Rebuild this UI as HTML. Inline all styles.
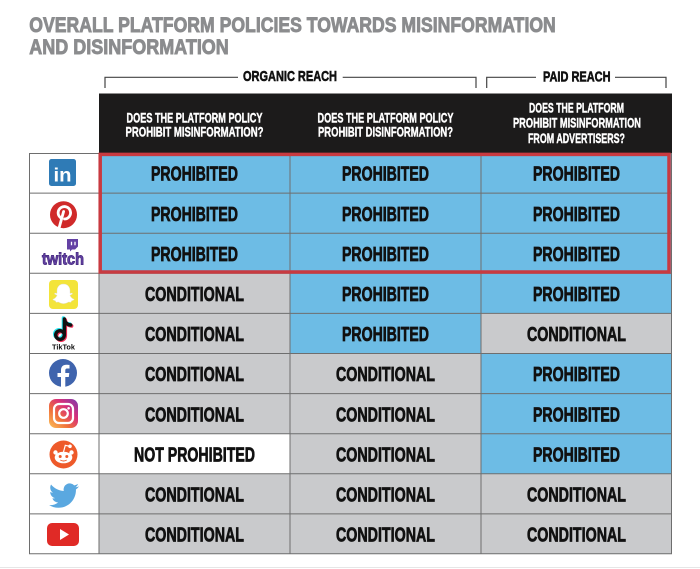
<!DOCTYPE html>
<html><head><meta charset="utf-8"><style>
html,body{margin:0;padding:0;background:#fff;}
svg{display:block;}
text{font-family:"Liberation Sans",sans-serif;font-weight:bold;}
</style></head><body>
<svg width="700" height="569" viewBox="0 0 700 569" xmlns="http://www.w3.org/2000/svg">
<defs>
<linearGradient id="ig" x1="0" y1="1" x2="1" y2="0">
<stop offset="0" stop-color="#fcc15a"/><stop offset="0.35" stop-color="#f0703a"/><stop offset="0.65" stop-color="#d8307a"/><stop offset="1" stop-color="#7a3cb0"/>
</linearGradient>
</defs>
<rect width="700" height="569" fill="#fff"/>
<!-- Title -->
<g fill="#8b8c8e" stroke="#8b8c8e" stroke-width="0.9" font-size="21">
<text x="29.3" y="31.8" textLength="526.5" lengthAdjust="spacingAndGlyphs">OVERALL PLATFORM POLICIES TOWARDS MISINFORMATION</text>
<text x="29.3" y="53.8" textLength="199.5" lengthAdjust="spacingAndGlyphs">AND DISINFORMATION</text>
</g>
<!-- Brackets -->
<g stroke="#444" stroke-width="1.2" fill="none">
<path d="M105 88 V77.3 H238"/>
<path d="M342.7 77.3 H476 V88"/>
<path d="M486.7 88 V77.3 H536"/>
<path d="M615 77.3 H666 V88"/>
</g>
<g fill="#111" stroke="#111" stroke-width="0.6" font-size="15">
<text x="243" y="81" textLength="94" lengthAdjust="spacingAndGlyphs">ORGANIC REACH</text>
<text x="543" y="81.5" textLength="67.5" lengthAdjust="spacingAndGlyphs">PAID REACH</text>
</g>
<!-- Header -->
<rect x="99" y="93.5" width="573" height="60" fill="#1c1b1b"/>
<g fill="#fff" stroke="#fff" stroke-width="0.45" font-size="13.7">
<text x="126.5" y="122.7" textLength="136" lengthAdjust="spacingAndGlyphs">DOES THE PLATFORM POLICY</text>
<text x="125.5" y="136.7" textLength="138" lengthAdjust="spacingAndGlyphs">PROHIBIT MISINFORMATION?</text>
<text x="317.5" y="122.7" textLength="136" lengthAdjust="spacingAndGlyphs">DOES THE PLATFORM POLICY</text>
<text x="318" y="136.7" textLength="135" lengthAdjust="spacingAndGlyphs">PROHIBIT DISINFORMATION?</text>
<text x="529" y="112.7" textLength="95" lengthAdjust="spacingAndGlyphs">DOES THE PLATFORM</text>
<text x="513" y="127.7" textLength="128" lengthAdjust="spacingAndGlyphs">PROHIBIT MISINFORMATION</text>
<text x="528" y="143" textLength="97" lengthAdjust="spacingAndGlyphs">FROM ADVERTISERS?</text>
</g>
<!-- Cells backgrounds -->
<g>
<rect x="99" y="153" width="191" height="120.3" fill="#6dbce5"/>
<rect x="99" y="273.3" width="191" height="160.4" fill="#c9cacc"/>
<rect x="99" y="433.7" width="191" height="40.1" fill="#ffffff"/>
<rect x="99" y="473.8" width="191" height="80.2" fill="#c9cacc"/>
<rect x="290" y="153" width="191" height="200.5" fill="#6dbce5"/>
<rect x="290" y="353.5" width="191" height="200.5" fill="#c9cacc"/>
<rect x="481" y="153" width="191" height="160.4" fill="#6dbce5"/>
<rect x="481" y="313.4" width="191" height="40.1" fill="#c9cacc"/>
<rect x="481" y="353.5" width="191" height="120.3" fill="#6dbce5"/>
<rect x="481" y="473.8" width="191" height="80.2" fill="#c9cacc"/>
</g>
<!-- Grid -->
<g stroke="#6e6e6e" stroke-width="1" fill="none">
<line x1="29" y1="153.5" x2="672" y2="153.5"/>
<line x1="29" y1="193.1" x2="672" y2="193.1"/>
<line x1="29" y1="233.2" x2="672" y2="233.2"/>
<line x1="29" y1="273.3" x2="672" y2="273.3"/>
<line x1="29" y1="313.4" x2="672" y2="313.4"/>
<line x1="29" y1="353.5" x2="672" y2="353.5"/>
<line x1="29" y1="393.6" x2="672" y2="393.6"/>
<line x1="29" y1="433.7" x2="672" y2="433.7"/>
<line x1="29" y1="473.8" x2="672" y2="473.8"/>
<line x1="29" y1="513.9" x2="672" y2="513.9"/>
<line x1="29" y1="553.8" x2="672" y2="553.8"/>
<line x1="29.5" y1="153" x2="29.5" y2="554"/>
<line x1="99" y1="153" x2="99" y2="554"/>
<line x1="290" y1="153" x2="290" y2="554"/>
<line x1="481" y1="153" x2="481" y2="554"/>
<line x1="671.5" y1="153" x2="671.5" y2="554"/>
</g>
<!-- Red highlight -->
<rect x="100.2" y="154.4" width="568.8" height="117.6" fill="none" stroke="#c83a40" stroke-width="3.5"/>
<!-- Cell text -->
<g fill="#111" stroke="#111" stroke-width="0.75" font-size="20">
<text x="151" y="180.7" textLength="87" lengthAdjust="spacingAndGlyphs">PROHIBITED</text>
<text x="342" y="180.7" textLength="87" lengthAdjust="spacingAndGlyphs">PROHIBITED</text>
<text x="533" y="180.7" textLength="87" lengthAdjust="spacingAndGlyphs">PROHIBITED</text>
<text x="151" y="220.8" textLength="87" lengthAdjust="spacingAndGlyphs">PROHIBITED</text>
<text x="342" y="220.8" textLength="87" lengthAdjust="spacingAndGlyphs">PROHIBITED</text>
<text x="533" y="220.8" textLength="87" lengthAdjust="spacingAndGlyphs">PROHIBITED</text>
<text x="151" y="260.9" textLength="87" lengthAdjust="spacingAndGlyphs">PROHIBITED</text>
<text x="342" y="260.9" textLength="87" lengthAdjust="spacingAndGlyphs">PROHIBITED</text>
<text x="533" y="260.9" textLength="87" lengthAdjust="spacingAndGlyphs">PROHIBITED</text>
<text x="145" y="301" textLength="99" lengthAdjust="spacingAndGlyphs">CONDITIONAL</text>
<text x="342" y="301" textLength="87" lengthAdjust="spacingAndGlyphs">PROHIBITED</text>
<text x="533" y="301" textLength="87" lengthAdjust="spacingAndGlyphs">PROHIBITED</text>
<text x="145" y="341.1" textLength="99" lengthAdjust="spacingAndGlyphs">CONDITIONAL</text>
<text x="342" y="341.1" textLength="87" lengthAdjust="spacingAndGlyphs">PROHIBITED</text>
<text x="527" y="341.1" textLength="99" lengthAdjust="spacingAndGlyphs">CONDITIONAL</text>
<text x="145" y="381.2" textLength="99" lengthAdjust="spacingAndGlyphs">CONDITIONAL</text>
<text x="336" y="381.2" textLength="99" lengthAdjust="spacingAndGlyphs">CONDITIONAL</text>
<text x="533" y="381.2" textLength="87" lengthAdjust="spacingAndGlyphs">PROHIBITED</text>
<text x="145" y="421.3" textLength="99" lengthAdjust="spacingAndGlyphs">CONDITIONAL</text>
<text x="336" y="421.3" textLength="99" lengthAdjust="spacingAndGlyphs">CONDITIONAL</text>
<text x="533" y="421.3" textLength="87" lengthAdjust="spacingAndGlyphs">PROHIBITED</text>
<text x="134" y="461.4" textLength="121" lengthAdjust="spacingAndGlyphs">NOT PROHIBITED</text>
<text x="336" y="461.4" textLength="99" lengthAdjust="spacingAndGlyphs">CONDITIONAL</text>
<text x="533" y="461.4" textLength="87" lengthAdjust="spacingAndGlyphs">PROHIBITED</text>
<text x="145" y="501.5" textLength="99" lengthAdjust="spacingAndGlyphs">CONDITIONAL</text>
<text x="336" y="501.5" textLength="99" lengthAdjust="spacingAndGlyphs">CONDITIONAL</text>
<text x="527" y="501.5" textLength="99" lengthAdjust="spacingAndGlyphs">CONDITIONAL</text>
<text x="145" y="541.6" textLength="99" lengthAdjust="spacingAndGlyphs">CONDITIONAL</text>
<text x="336" y="541.6" textLength="99" lengthAdjust="spacingAndGlyphs">CONDITIONAL</text>
<text x="527" y="541.6" textLength="99" lengthAdjust="spacingAndGlyphs">CONDITIONAL</text>
</g>
<!-- Icons -->
<!-- LinkedIn -->
<rect x="49" y="159" width="27" height="27" rx="2.5" fill="#2f7bb6"/>
<text x="53.5" y="181.5" font-size="19" fill="#fff" textLength="18" lengthAdjust="spacingAndGlyphs">in</text>
<!-- Pinterest -->
<circle cx="63.5" cy="214.7" r="13.5" fill="#d02a2a"/>
<path d="M60.3 217.5 A6.2 6.2 0 1 1 64.5 219" fill="none" stroke="#fff" stroke-width="2.8" stroke-linecap="round"/>
<path d="M63.6 211.5 L59.2 227.5" stroke="#fff" stroke-width="2.8" stroke-linecap="round"/>
<!-- Twitch -->
<path d="M67 239 h11 v7.5 l-3 3 h-3 l-2 2 v-2 h-3 z" fill="#6441a4"/>
<path d="M71.5 241.8 v3.4 M75 241.8 v3.4" stroke="#fff" stroke-width="1.3"/>
<text x="42" y="264.5" font-size="17" fill="#6441a4" stroke="#4b2f85" stroke-width="0.9" textLength="42" lengthAdjust="spacingAndGlyphs">twitch</text>
<!-- Snapchat -->
<rect x="49" y="280" width="29" height="29" rx="4" fill="#f3e43a"/>
<path d="M63.5 284 c-4.5 0 -6.5 3.5 -6.5 6.5 v3 l-2.2 -0.5 -0.3 1 2.6 1.3 c-0.8 2 -2.5 3.5 -4.3 4 0.3 1 1.5 1.2 2.6 1.4 l0.6 1.5 2.5 -0.2 c1.2 0.6 2.5 1.6 5 1.6 s3.8 -1 5 -1.6 l2.5 0.2 0.6 -1.5 c1.1 -0.2 2.3 -0.4 2.6 -1.4 -1.8 -0.5 -3.5 -2 -4.3 -4 l2.6 -1.3 -0.3 -1 -2.2 0.5 v-3 c0 -3 -2 -6.5 -6.5 -6.5z" fill="#fff" stroke="#ddd" stroke-width="0.4"/>
<!-- TikTok -->
<g fill="none" stroke-width="3.4" stroke-linecap="round">
<g stroke="#25e4ee" transform="translate(-1,-1)"><circle cx="60" cy="335" r="4.3"/><path d="M64.4 319 V335 M64.4 319.5 q1 5 6.3 5.5"/></g>
<g stroke="#f02c55" transform="translate(1,1)"><circle cx="60" cy="335" r="4.3"/><path d="M64.4 319 V335 M64.4 319.5 q1 5 6.3 5.5"/></g>
<g stroke="#111"><circle cx="60" cy="335" r="4.3"/><path d="M64.4 319 V335 M64.4 319.5 q1 5 6.3 5.5"/></g>
</g>
<text x="52" y="349.5" font-size="7" fill="#111" textLength="23" lengthAdjust="spacingAndGlyphs">TikTok</text>
<!-- Facebook -->
<circle cx="63" cy="373" r="14" fill="#3f64ad"/>
<path d="M61 387 v-10 h-3.5 v-4 h3.5 v-2.9 c0 -3.5 2.1 -5.4 5.3 -5.4 1.5 0 2.8 0.2 3.2 0.2 v3.6 h-2.2 c-1.6 0 -2 0.8 -2 2 v2.5 h4 l-0.5 4 h-3.5 v10 z" fill="#fff"/>
<!-- Instagram -->
<rect x="49" y="399" width="29" height="29" rx="7" fill="url(#ig)"/>
<rect x="54" y="404" width="19" height="19" rx="5" fill="none" stroke="#fff" stroke-width="2.2"/>
<circle cx="63.5" cy="413.5" r="4.3" fill="none" stroke="#fff" stroke-width="2.2"/>
<circle cx="68.6" cy="408.3" r="1.3" fill="#fff"/>
<!-- Reddit -->
<circle cx="63.5" cy="454.5" r="14" fill="#ee5a2a"/>
<circle cx="55.5" cy="452.5" r="2.2" fill="#fff"/>
<circle cx="71.5" cy="452.5" r="2.2" fill="#fff"/>
<ellipse cx="63.5" cy="457.5" rx="8.8" ry="5.8" fill="#fff"/>
<path d="M63.5 452 L65.3 445.3 L69 446.2" fill="none" stroke="#fff" stroke-width="1.2"/>
<circle cx="70" cy="446.3" r="1.8" fill="#fff"/>
<circle cx="60.2" cy="456.5" r="1.5" fill="#ee5a2a"/>
<circle cx="66.8" cy="456.5" r="1.5" fill="#ee5a2a"/>
<path d="M60.3 460 q3.2 2 6.4 0" fill="none" stroke="#ee5a2a" stroke-width="0.9"/>
<!-- Twitter -->
<path transform="translate(49,480.6) scale(1.25)" fill="#5aa8e0" d="M23.953 4.57a10 10 0 01-2.825.775 4.958 4.958 0 002.163-2.723c-.951.555-2.005.959-3.127 1.184a4.92 4.92 0 00-8.384 4.482C7.69 8.095 4.067 6.13 1.64 3.162a4.822 4.822 0 00-.666 2.475c0 1.71.87 3.213 2.188 4.096a4.904 4.904 0 01-2.228-.616v.06a4.923 4.923 0 003.946 4.827 4.996 4.996 0 01-2.212.085 4.936 4.936 0 004.604 3.417 9.867 9.867 0 01-6.102 2.105c-.39 0-.779-.023-1.170-.067a13.995 13.995 0 007.557 2.209c9.053 0 13.998-7.496 13.998-13.985 0-.21 0-.42-.015-.63A9.935 9.935 0 0024 4.59z"/>
<!-- YouTube -->
<rect x="47" y="523" width="32" height="23" rx="5" fill="#e02a26"/>
<path d="M60 529 L60 540 L69 534.5 z" fill="#fff"/>
<!-- bottom faint line -->
<line x1="0" y1="567.5" x2="700" y2="567.5" stroke="#e6e6e6" stroke-width="1"/>
</svg>
</body></html>
